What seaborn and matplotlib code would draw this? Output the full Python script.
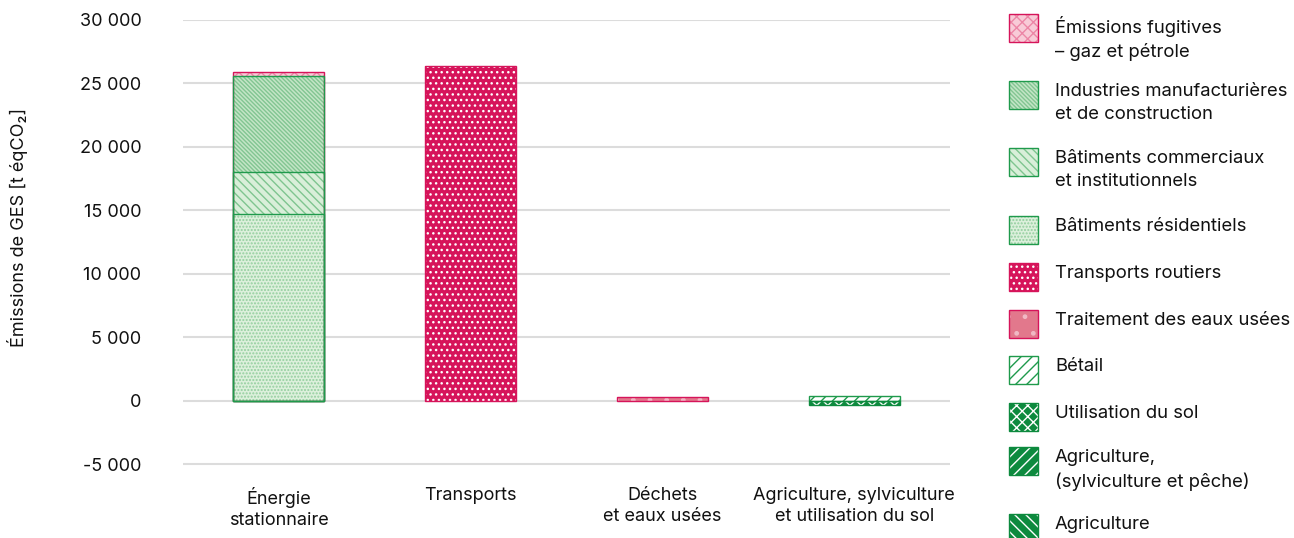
import matplotlib
matplotlib.use("Agg")
import matplotlib.pyplot as plt
import seaborn as sns
import numpy as np
import pandas as pd
from matplotlib.patches import Rectangle
from matplotlib.ticker import FuncFormatter

# ---- data ----
categories = ["Énergie\nstationnaire", "Transports", "Déchets\net eaux usées",
              "Agriculture, sylviculture\net utilisation du sol"]

# segments (stack order bottom -> top), values per category
residentiels = [14700, 0, 0, 0]
commerciaux = [3300, 0, 0, 0]
industries = [7600, 0, 0, 0]
fugitives = [300, 0, 0, 0]
routiers = [0, 26400, 0, 0]
eaux_usees = [0, 0, 300, 0]
betail = [0, 0, 0, 350]
sol = [0, 0, 0, -300]

legend_labels = ["Émissions fugitives\n– gaz et pétrole",
                 "Industries manufacturières\net de construction",
                 "Bâtiments commerciaux\net institutionnels",
                 "Bâtiments résidentiels",
                 "Transports routiers",
                 "Traitement des eaux usées",
                 "Bétail",
                 "Utilisation du sol",
                 "Agriculture,\n(sylviculture et pêche)",
                 "Agriculture"]

yticks = [-5000, 0, 5000, 10000, 15000, 20000, 25000, 30000]

# ---- styles ----
CRIMSON = "#d6145a"
GREEN = "#1f9a4c"
DARK = "#0d8a3e"
styles = {
    "Émissions fugitives\n– gaz et pétrole": dict(fc="#f8cbd7", hc="#ec86a6", hatch="xxx", ec=CRIMSON),
    "Industries manufacturières\net de construction": dict(fc="#c3e5c6", hc="#82c592", hatch="\\" * 8, ec=GREEN),
    "Bâtiments commerciaux\net institutionnels": dict(fc="#d9efd9", hc="#7fc58f", hatch="\\" * 4, ec=GREEN),
    "Bâtiments résidentiels": dict(fc="#dcf0dc", hc="#93cf9f", hatch=".....", ec=GREEN),
    "Transports routiers": dict(fc=CRIMSON, hc="white", hatch="...", ec=CRIMSON),
    "Traitement des eaux usées": dict(fc="#e2788c", hc="#f1b8c4", hatch=".", ec=CRIMSON),
    "Bétail": dict(fc="white", hc=GREEN, hatch="///", ec=GREEN),
    "Utilisation du sol": dict(fc=DARK, hc="white", hatch="xxx", ec=DARK),
    "Agriculture,\n(sylviculture et pêche)": dict(fc=DARK, hc="white", hatch="///", ec=DARK),
    "Agriculture": dict(fc=DARK, hc="white", hatch="\\\\\\", ec=DARK),
}

sns.set_theme(style="white")
plt.rcParams["font.family"] = ["Inter", "DejaVu Sans"]
plt.rcParams["hatch.linewidth"] = 1.0

FW, FH = 1294, 538
fig = plt.figure(figsize=(FW / 100, FH / 100), dpi=100)
ax = fig.add_axes([183 / FW, 1 - 477 / FH, (950 - 183) / FW, (477 - 20) / FH])

# gridlines
for t in yticks:
    ax.axhline(t, color="#dcdcdc", lw=1.5, zorder=0)

pos_stack = [
    ("Bâtiments résidentiels", residentiels),
    ("Bâtiments commerciaux\net institutionnels", commerciaux),
    ("Industries manufacturières\net de construction", industries),
    ("Émissions fugitives\n– gaz et pétrole", fugitives),
    ("Transports routiers", routiers),
    ("Traitement des eaux usées", eaux_usees),
    ("Bétail", betail),
]
neg_stack = [("Utilisation du sol", sol)]

cum = np.zeros(len(categories))
cums = []
for name, vals in pos_stack:
    cum = cum + np.array(vals, dtype=float)
    cums.append((name, np.array(vals, dtype=float), cum.copy()))

W = 0.475


def draw(name, heights, mask):
    st = styles[name]
    h = np.where(mask, heights, np.nan)
    df = pd.DataFrame({"cat": categories, "val": h})
    sns.barplot(data=df, x="cat", y="val", order=categories, color=st["fc"],
                hatch=st["hatch"], edgecolor=st["hc"], linewidth=0, width=W,
                saturation=1, errorbar=None, ax=ax, zorder=2)
    sns.barplot(data=df, x="cat", y="val", order=categories, fill=False,
                edgecolor=st["ec"], linewidth=1.0, width=W, errorbar=None,
                ax=ax, zorder=3)


for name, vals, c in reversed(cums):
    draw(name, c, vals != 0)
for name, vals in neg_stack:
    v = np.array(vals, dtype=float)
    draw(name, v, v != 0)

ax.set_xlim(-0.5, 3.5)
ax.set_ylim(-6000, 30000)
ax.set_yticks(yticks)
ax.yaxis.set_major_formatter(FuncFormatter(lambda v, p: f"{v:,.0f}".replace(",", " ")))
ax.tick_params(axis="y", length=0, pad=30, labelsize=13, colors="#111111")
ax.tick_params(axis="x", length=0, pad=7, labelsize=13, colors="#111111")
for t in ax.get_xticklabels():
    t.set_linespacing(1.3)
ax.set_xlabel("")
ax.set_ylabel("")
for s in ax.spines.values():
    s.set_visible(False)

fig.text(18 / FW, 1 - 227 / FH, "Émissions de GES [t éqCO₂]", rotation=90,
         ha="center", va="center", fontsize=13, color="#111111")

# legend (drawn manually in figure pixel coordinates)
tops = [14, 81, 148, 216, 263, 310, 356, 403, 447, 514]
for lab, top in zip(legend_labels, tops):
    st = styles[lab]
    x0, w, h = 1009, 29, 28
    fig.patches.append(Rectangle((x0 / FW, 1 - (top + h) / FH), w / FW, h / FH,
                                 transform=fig.transFigure, facecolor=st["fc"],
                                 edgecolor=st["hc"], hatch=st["hatch"], lw=0))
    fig.patches.append(Rectangle((x0 / FW, 1 - (top + h) / FH), w / FW, h / FH,
                                 transform=fig.transFigure, facecolor="none",
                                 edgecolor=st["ec"], lw=1.0))
    fig.text(1055 / FW, 1 - (top + 2) / FH, lab, ha="left", va="top",
             fontsize=13.3, color="#111111", linespacing=1.45,
             transform=fig.transFigure)

fig.savefig("out.png", dpi=100)
